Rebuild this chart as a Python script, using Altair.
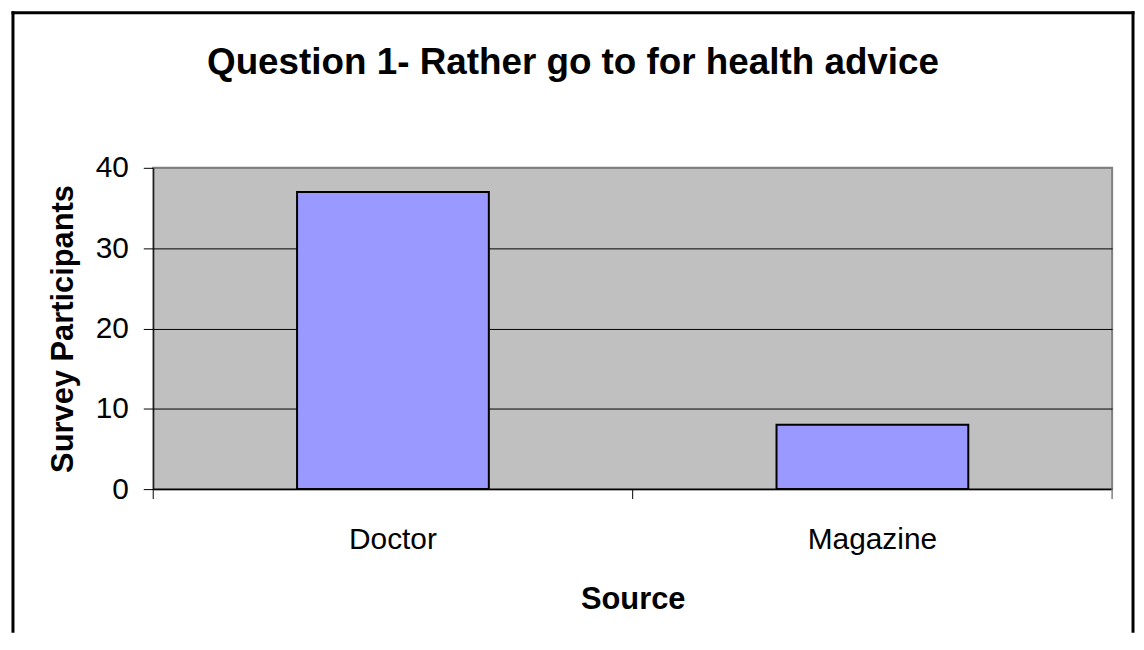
import altair as alt
import pandas as pd

categories = ["Doctor", "Magazine"]
participants = [37, 8]
y_ticks = [0, 10, 20, 30, 40]

title_text = "Question 1- Rather go to for health advice"
x_title = "Source"
y_title = "Survey Participants"

W, H = 964, 323
FONT = "Liberation Sans"

df = pd.DataFrame({"Source": categories, "Participants": participants})
base = alt.Chart(df)

x_scale = alt.Scale(paddingInner=0.6, paddingOuter=0.3)
edge_scale = alt.Scale(paddingInner=0, paddingOuter=0)

bars = base.mark_bar(fill="#9999FF", stroke="black", strokeWidth=2).encode(
    x=alt.X("Source:N", sort=categories, scale=x_scale,
            axis=alt.Axis(title=x_title, labelAngle=0, ticks=False,
                          labelPadding=36, titlePadding=30,
                          labelFontSize=30, titleFontSize=31,
                          labelFont=FONT, titleFont=FONT,
                          labelColor="black", titleColor="black",
                          titleFontWeight="bold",
                          domainColor="black", domainWidth=1.5)),
    y=alt.Y("Participants:Q", scale=alt.Scale(domain=[0, 40], nice=False),
            axis=alt.Axis(title=y_title, values=y_ticks, tickSize=10,
                          tickColor="black", labelPadding=15, titlePadding=16,
                          labelFontSize=30, titleFontSize=31,
                          labelFont=FONT, titleFont=FONT,
                          labelColor="black", titleColor="black",
                          titleFontWeight="bold",
                          domainColor="black", domainWidth=1,
                          grid=True, gridWidth=1,
                          gridColor={"condition": {"test": "datum.value === 40", "value": "#808080"}, "value": "black"})),
)

# category-boundary ticks under the x axis (between categories, Excel style)
ticks_start = base.mark_rule(color="black", strokeWidth=1).encode(
    x=alt.X("Source:N", sort=categories, scale=edge_scale, axis=None, bandPosition=0),
    y=alt.value(H), y2=alt.value(H + 10),
)
ticks_end = base.transform_filter(alt.datum.Source == categories[-1]).mark_rule(
    color="#808080", strokeWidth=1.5).encode(
    x=alt.X("Source:N", scale=edge_scale, axis=None, bandPosition=1),
    y=alt.value(H), y2=alt.value(H + 10),
)

frame = alt.Data(values=[{"f": 1}])
left_border = alt.Chart(frame).mark_rule(color="black", strokeWidth=3, strokeCap="square").encode(
    x=alt.value(-141), y=alt.value(-156), y2=alt.value(H + 143))
top_border = alt.Chart(frame).mark_rule(color="black", strokeWidth=3, strokeCap="square").encode(
    x=alt.value(-141), x2=alt.value(W + 21), y=alt.value(-156))
right_border = alt.Chart(frame).mark_rule(color="black", strokeWidth=3, strokeCap="square").encode(
    x=alt.value(W + 21), y=alt.value(-156), y2=alt.value(H + 143))

chart = alt.layer(bars, ticks_start, ticks_end, left_border, top_border, right_border).resolve_scale(
    x="independent"
).properties(
    width=W, height=H,
    padding={"left": 2, "top": 0, "right": 0, "bottom": 0},
    title=alt.TitleParams(text=title_text, font=FONT, fontSize=37, fontWeight="bold",
                          color="black", anchor="middle", frame="bounds",
                          baseline="alphabetic", offset=0, dy=101),
    background="white",
).configure_view(
    fill="#C0C0C0", stroke="#808080", strokeWidth=2,
)

chart.save("out.html", embed_options={"renderer": "svg", "actions": False})
